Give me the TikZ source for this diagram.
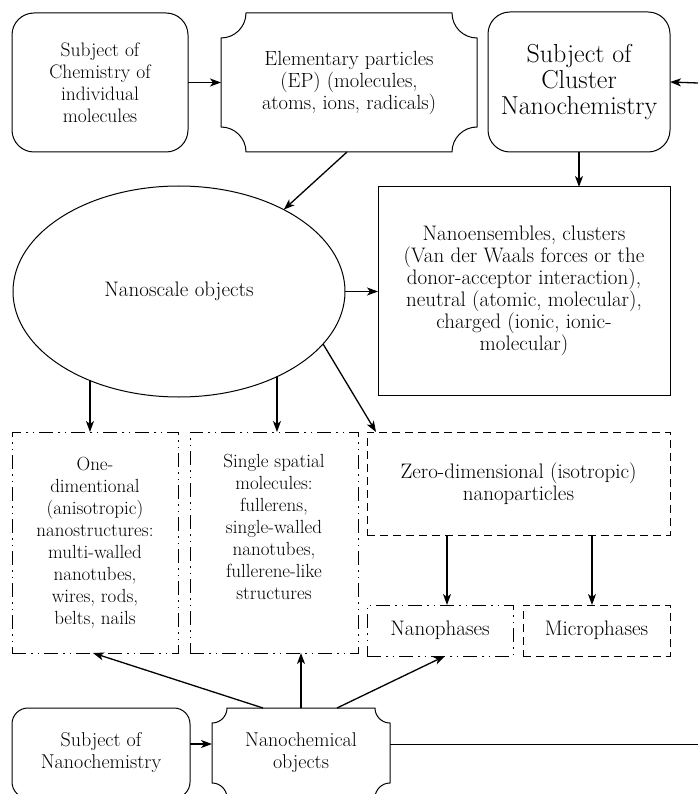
\documentclass[tikz,border=0pt]{standalone}
\usetikzlibrary{arrows.meta,calc,shapes.geometric}
\newcommand\plaqueoutline[2]{%
  \draw[line width=1pt] ([xshift=#2]#1.north west) -- ([xshift=-#2]#1.north east)
    arc[start angle=180,end angle=270,radius=#2] -- ([yshift=#2]#1.south east)
    arc[start angle=90,end angle=180,radius=#2] -- ([xshift=#2]#1.south west)
    arc[start angle=0,end angle=90,radius=#2] -- ([yshift=-#2]#1.north west)
    arc[start angle=270,end angle=360,radius=#2] -- cycle;}
\begin{document}
\begin{tikzpicture}[x=1pt,y=-1pt,
  txt/.style={align=center,font=\fontsize{21}{22}\selectfont,inner sep=0pt,outer sep=0pt},
  fs/.style={font=\fontsize{#1}{22}\selectfont},
  rbox/.style={draw,line width=1pt,rounded corners=#1},
  rbox/.default=22pt,
  plainbox/.style={draw,line width=1pt},
  dashbox/.style={draw,line width=1pt,dash pattern=on 8pt off 5pt},
  ddbox/.style={draw,line width=1pt,dash pattern=on 14pt off 5pt on 1.5pt off 5pt on 1.5pt off 5pt},
  arr/.style={line width=1.3pt,-{Stealth[length=11pt,width=8pt,inset=3pt]}},
  conn/.style={line width=1pt},
]
\clip (0,0) rectangle (698,794);
\fill[white] (0,0) rectangle (698,794);

% top row
\node[txt,fs=19.5,rbox,minimum width=176pt,minimum height=139pt] (chem) at (100,82.5)
  {Subject of\\Chemistry of\\individual\\molecules};
\node[txt,fs=20.5,minimum width=256pt,minimum height=139pt] (ep) at (349,82.5)
  {Elementary particles\\(EP) (molecules,\\atoms, ions, radicals)};
\plaqueoutline{ep}{25pt}
\node[txt,rbox,minimum width=182pt,minimum height=140pt,font=\fontsize{26}{26}\selectfont] (clu) at (579,82)
  {Subject of\\Cluster\\Nanochemistry};

% middle
\node[txt,draw,ellipse,line width=1pt,minimum width=332pt,minimum height=211pt] (nso) at (179,291.5)
  {Nanoscale objects};
\node[txt,plainbox,minimum width=292pt,minimum height=208pt] (ne) at (524,291)
  {Nanoensembles, clusters\\(Van der Waals forces or the\\donor-acceptor interaction),\\neutral (atomic, molecular),\\charged (ionic, ionic-\\molecular)};

% lower boxes
\node[txt,fs=19,ddbox,minimum width=166pt,minimum height=221pt] (one) at (95,542.5)
  {One-\\dimentional\\(anisotropic)\\nanostructures:\\multi-walled\\nanotubes,\\wires, rods,\\belts, nails};
\node[ddbox,minimum width=168pt,minimum height=221pt,inner sep=0pt,outer sep=0pt] (ss) at (274,542.5) {};
\node[txt,fs=19] (sstext) at (274,527)
  {Single spatial\\molecules:\\fullerens,\\single-walled\\nanotubes,\\fullerene-like\\structures};
\node[txt,dashbox,minimum width=303pt,minimum height=103pt] (zero) at (518.5,483.5)
  {Zero-dimensional (isotropic)\\nanoparticles};
\node[txt,ddbox,minimum width=146pt,minimum height=51pt] (nanop) at (440,630.5) {Nanophases};
\node[txt,dashbox,minimum width=147pt,minimum height=51pt] (micro) at (596.5,630.5) {Microphases};

% bottom row
\node[txt,fs=20,rbox=16pt,minimum width=178pt,minimum height=90pt] (sn) at (101,753)
  {Subject of\\Nanochemistry};
\node[txt,fs=20,minimum width=178pt,minimum height=90pt] (nco) at (301,753)
  {Nanochemical\\objects};
\plaqueoutline{nco}{15pt}

\coordinate (rin) at (698,83);
\coordinate (rout) at (698,744);

% connectors
\draw[arr] (chem.east) -- (ep.west);
\draw[arr] (rin) -- (clu.east);
\draw[arr] (clu.south) -- (clu.south |- ne.north);
\draw[arr] ([xshift=-2pt]ep.south) -- (nso.38);
\draw[arr] (nso.east) -- (nso.east -| ne.west);
\draw[arr] (nso.225) -- (nso.225 |- one.north);
\draw[arr] (nso.319.5) -- (nso.319.5 |- ss.north);
\draw[arr] (nso.-20) -- ([xshift=9pt]zero.north west);
\draw[arr] ([xshift=7pt]nanop.north |- zero.south) -- ([xshift=7pt]nanop.north);
\draw[arr] ([xshift=-4.5pt]micro.north |- zero.south) -- ([xshift=-4.5pt]micro.north);
\draw[arr] ([yshift=9pt]sn.east) -- ([yshift=9pt]nco.west);
\draw[conn] ([yshift=9pt]nco.east) -- (rout);
\draw[arr] ([xshift=-38pt]nco.north) -- ([xshift=-2pt]one.south);
\draw[arr] (nco.north) -- (nco.north |- ss.south);
\draw[arr] ([xshift=36pt]nco.north) -- ([xshift=5pt]nanop.south);
\end{tikzpicture}
\end{document}
